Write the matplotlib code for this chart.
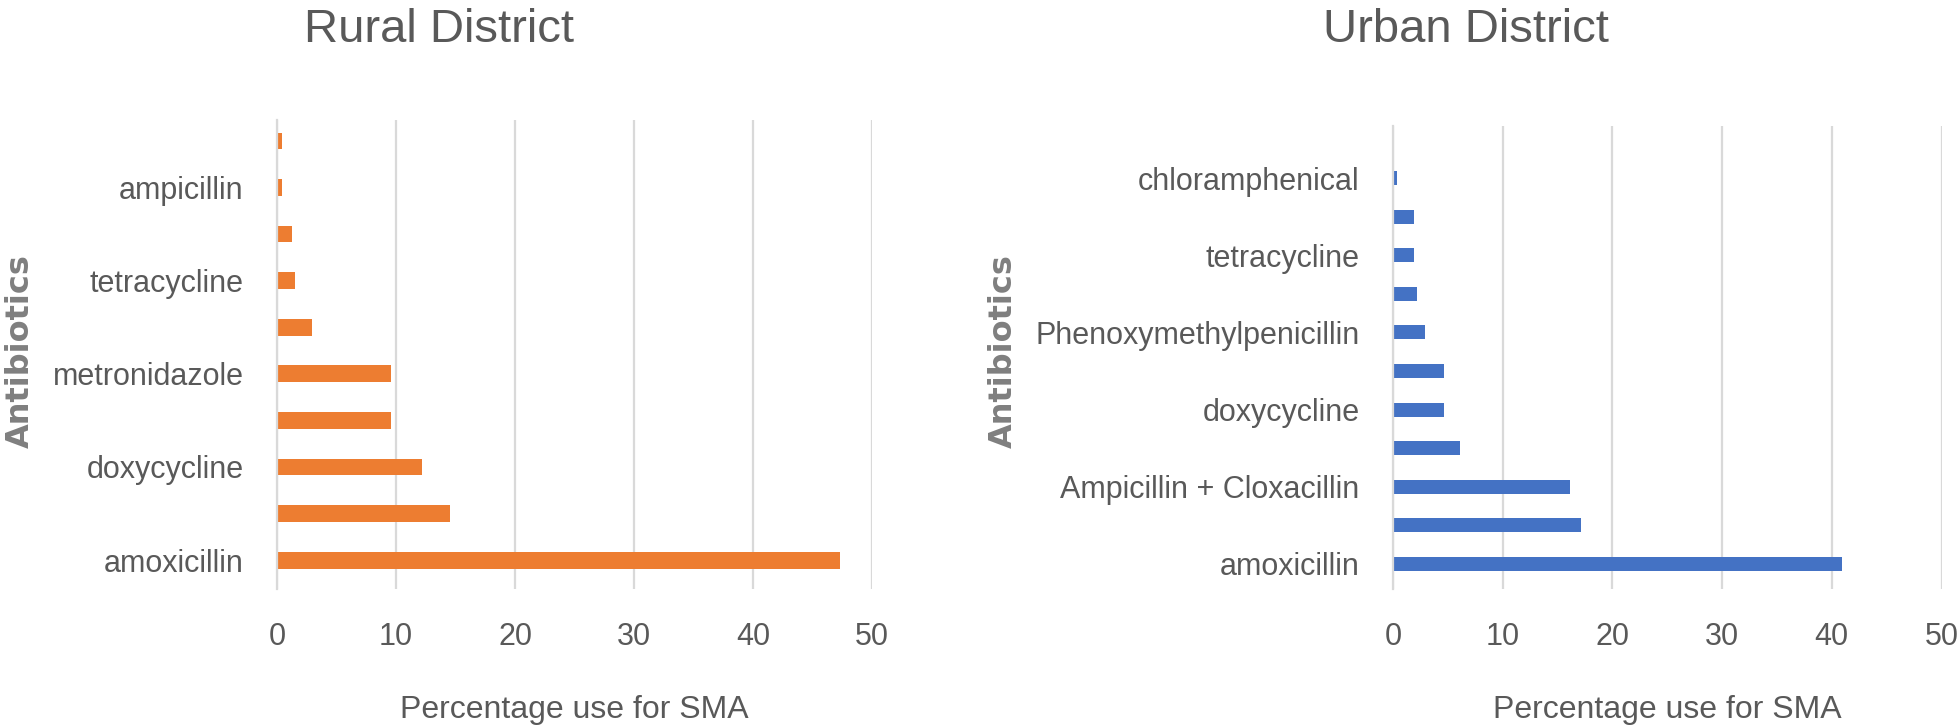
#!/usr/bin/env python
# Antibiotic use for SMA, rural vs urban district (horizontal bars)

import matplotlib
matplotlib.use('Agg')
import matplotlib.pyplot as plt


#########
# Data  #
#########

# bottom to top; only every other category carries a visible label
rural_labels = ['amoxicillin', '', 'doxycycline', '', 'metronidazole', '',
                'tetracycline', '', 'ampicillin', '']
rural_values = [47.3, 14.5, 12.2, 9.6, 9.6, 2.9, 1.5, 1.3, 0.4, 0.4]

urban_labels = ['amoxicillin', '', 'Ampicillin + Cloxacillin', '',
                'doxycycline', '', 'Phenoxymethylpenicillin', '',
                'tetracycline', '', 'chloramphenical']
urban_values = [40.9, 17.1, 16.1, 6.1, 4.65, 4.65, 2.9, 2.2, 1.9, 1.9, 0.4]

x_ticks = [0, 10, 20, 30, 40, 50]

ORANGE = '#ED7D31'
BLUE = '#4472C4'
GRID = '#D9D9D9'
TEXT = '#595959'

plt.rcParams['font.family'] = ['Liberation Sans', 'DejaVu Sans']


###########
# Helpers #
###########

def draw_panel(ax, labels, values, color, ylim, ylabel_x, ylabel_y):
    pos = range(len(values))
    ax.barh(pos, values, height=0.36, color=color, zorder=3)

    ax.set_xlim(0, 50)
    ax.set_ylim(*ylim)
    ax.set_xticks(x_ticks)
    ax.set_yticks(list(pos))
    ax.set_yticklabels(labels)

    ax.grid(axis='x', color=GRID, linewidth=1.6, zorder=0)
    for side in ('top', 'right', 'bottom'):
        ax.spines[side].set_visible(False)
    ax.spines['left'].set_color(GRID)
    ax.spines['left'].set_linewidth(1.6)
    ax.spines['left'].set_zorder(4)

    ax.tick_params(axis='both', length=0, labelsize=22, labelcolor=TEXT)
    ax.tick_params(axis='y', pad=24)
    ax.tick_params(axis='x', pad=24)

    ax.set_xlabel('Percentage use for SMA', fontsize=23, color=TEXT)
    ax.xaxis.label.set_va('center')
    ax.set_ylabel('Antibiotics', fontsize=23, color='#7F7F7F',
                  family=['DejaVu Sans'], weight='bold')
    ax.yaxis.label.set_va('center')
    ax.yaxis.set_label_coords(ylabel_x, ylabel_y)


if __name__ == '__main__':
    W, H = 1960, 726
    fig = plt.figure(figsize=(W / 100, H / 100), dpi=100)

    # rural: plot area 277..872 px, 120..589 px
    ax1 = fig.add_axes([277 / W, 1 - 589 / H, 595 / W, 469 / H])
    draw_panel(ax1, rural_labels, rural_values, ORANGE, (-0.62, 9.45),
               -0.432, 0.508)
    ax1.xaxis.set_label_coords(0.5, (589 - 710) / 469)

    # urban: plot area 1393..1941 px, 126..589 px
    ax2 = fig.add_axes([1393 / W, 1 - 589 / H, 548.5 / W, 463 / H])
    draw_panel(ax2, urban_labels, urban_values, BLUE, (-0.65, 11.35),
               -0.711, 0.514)
    ax2.xaxis.set_label_coords(0.5, (589 - 710) / 463)

    fig.text(439 / W, 1 - 30 / H, 'Rural District', fontsize=34, color=TEXT,
             ha='center', va='center')
    fig.text(1466 / W, 1 - 30 / H, 'Urban District', fontsize=34, color=TEXT,
             ha='center', va='center')

    fig.savefig('out.png', dpi=100)
